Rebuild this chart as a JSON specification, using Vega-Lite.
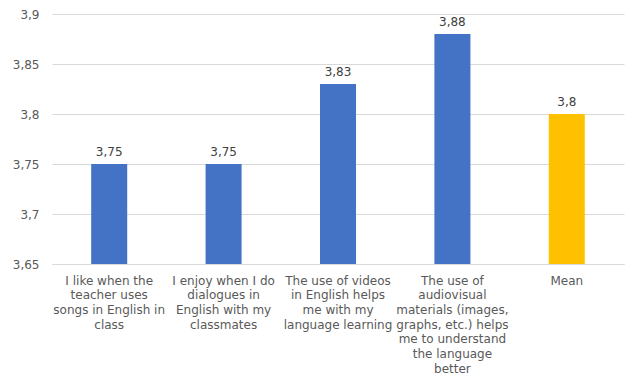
{
  "$schema": "https://vega.github.io/schema/vega-lite/v6.json",
  "width": 572,
  "height": 250,
  "autosize": {"type": "none"},
  "padding": {"left": 52, "top": 14, "right": 14, "bottom": 120},
  "background": "white",
  "config": {
    "locale": {"number": {"decimal": ",", "thousands": ".", "grouping": [3], "currency": ["", " €"]}},
    "view": {"stroke": null},
    "font": "DejaVu Sans",
    "axis": {"labelFont": "DejaVu Sans", "labelFontSize": 12, "labelColor": "#595959"}
  },
  "data": {
    "values": [
      {"label": "I like when the|teacher uses|songs in English in|class", "value": 3.75, "group": "item"},
      {"label": "I enjoy  when I do|dialogues in|English with my|classmates", "value": 3.75, "group": "item"},
      {"label": "The use of videos|in English helps|me with my|language learning", "value": 3.83, "group": "item"},
      {"label": "The use of|audiovisual|materials (images,|graphs, etc.) helps|me to understand|the language|better", "value": 3.88, "group": "item"},
      {"label": "Mean", "value": 3.8, "group": "mean"}
    ]
  },
  "encoding": {
    "x": {
      "field": "label", "type": "nominal", "sort": null,
      "axis": {"title": null, "labelAngle": 0, "labelExpr": "split(datum.label, '|')", "ticks": false, "domainColor": "#d9d9d9", "domainWidth": 1, "labelPadding": 11, "labelLineHeight": 14.7, "labelBaseline": "top", "labelLimit": 0}
    },
    "y": {
      "field": "value", "type": "quantitative",
      "scale": {"domain": [3.65, 3.9], "zero": false, "nice": false},
      "axis": {"title": null, "values": [3.65, 3.7, 3.75, 3.8, 3.85, 3.9], "format": "~g", "domain": false, "ticks": false, "gridColor": "#d9d9d9", "labelPadding": 13}
    }
  },
  "layer": [
    {
      "mark": {"type": "bar", "size": 36, "clip": true},
      "encoding": {
        "color": {"field": "group", "type": "nominal", "scale": {"domain": ["item", "mean"], "range": ["#4472C4", "#FFC000"]}, "legend": null}
      }
    },
    {
      "mark": {"type": "text", "dy": -12, "fontSize": 12, "color": "#404040", "font": "DejaVu Sans"},
      "encoding": {
        "text": {"field": "value", "type": "quantitative", "format": "~g"}
      }
    }
  ]
}
